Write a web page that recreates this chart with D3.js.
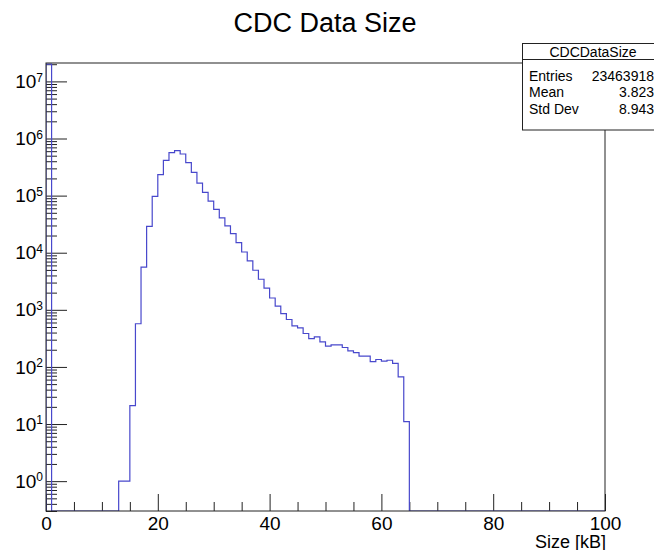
<!DOCTYPE html>
<html>
<head>
<meta charset="utf-8">
<script src="https://cdn.jsdelivr.net/npm/d3@7"></script>
<style>
  body { margin: 0; background: #fff; }
  svg { font-family: "Liberation Sans", Arial, sans-serif; }
</style>
</head>
<body>
<div id="chart"></div>
<script>
// histogram: 100 bins of 1 kB from 0 to 100, only non-empty bins listed
var binLow = [0, 13, 14, 15, 16, 17, 18, 19, 20, 21, 22, 23, 24, 25, 26, 27, 28, 29,
    30, 31, 32, 33, 34, 35, 36, 37, 38, 39, 40, 41, 42, 43, 44, 45, 46, 47, 48, 49,
    50, 51, 52, 53, 54, 55, 56, 57, 58, 59, 60, 61, 62, 63, 64];
var binCount = [2.0e7, 1, 1, 21, 570, 5600, 29000, 97000, 233000, 415000, 565000, 613000,
    535000, 378000, 256000, 166000, 114000, 80000,
    57500, 40600, 29400, 21600, 15000, 10300, 7170, 4930, 3430, 2390, 1610, 1160, 860, 677,
    522, 482, 385, 314, 335, 274, 231, 243, 243, 219, 191, 178, 154, 154, 124, 135, 126,
    131, 115, 67, 11];
var xMajorTicks = [0, 20, 40, 60, 80, 100];
var yMajorTicks = [1e0, 1e1, 1e2, 1e3, 1e4, 1e5, 1e6, 1e7];
var statsNames = ["Entries", "Mean", "Std Dev"];
var statsValues = ["23463918", "3.823", "8.943"];

var width = 654, height = 550;
var margin = { top: 63, right: 49, bottom: 39, left: 46 };
var w = width - margin.left - margin.right;
var h = height - margin.top - margin.bottom;

var svg = d3.select("#chart").append("svg")
    .attr("width", width)
    .attr("height", height);

var xScale = d3.scaleLinear().domain([0, 100]).range([0, w]);
var yScale = d3.scaleLog().domain([0.3, 2.1e7]).range([h, 0]);

var g = svg.append("g").attr("transform", "translate(" + margin.left + "," + margin.top + ")");

g.append("clipPath").attr("id", "clip")
    .append("rect").attr("width", w).attr("height", h);

// x axis, ticks point inward
var xMinor = d3.range(0, 101, 5).filter(function (v) { return v % 20 != 0; });
g.append("g")
    .attr("transform", "translate(0," + h + ")")
    .call(d3.axisBottom(xScale).tickValues(xMinor).tickSize(-9).tickFormat(""))
    .call(function (a) { a.select(".domain").remove(); });
var xAxis = g.append("g")
    .attr("transform", "translate(0," + h + ")")
    .call(d3.axisBottom(xScale).tickValues(xMajorTicks).tickSize(-17).tickPadding(6));
xAxis.select(".domain").remove();
xAxis.selectAll("text").attr("font-size", 19).attr("fill", "#000").attr("font-family", null);

// y axis
var yMinor = [];
d3.range(-1, 8).forEach(function (e) {
    for (var k = 2; k <= 9; k++) {
        var v = k * Math.pow(10, e);
        if (v >= 0.3 && v <= 2.1e7) yMinor.push(v);
    }
});
g.append("g")
    .call(d3.axisLeft(yScale).tickValues(yMinor).tickSize(-11).tickFormat(""))
    .call(function (a) { a.select(".domain").remove(); });
var yAxis = g.append("g")
    .call(d3.axisLeft(yScale).tickValues(yMajorTicks).tickSize(-21).tickPadding(3));
yAxis.select(".domain").remove();
yAxis.selectAll("text")
    .attr("font-size", 19).attr("fill", "#000").attr("font-family", null)
    .text(null)
    .each(function (d) {
        var t = d3.select(this);
        t.append("tspan").text("10");
        t.append("tspan").attr("font-size", 12).attr("dy", -6.4)
            .text(Math.round(Math.log10(d)));
    });

g.selectAll(".tick line").attr("stroke", "#222");

// fill every bin, empty ones sit on the bottom of the frame
var counts = d3.range(100).map(function () { return 0; });
binLow.forEach(function (b, i) { counts[b] = binCount[i]; });

var yOf = function (v) { return v > 0 ? yScale(v) : h; };
var pts = [[xScale(0), h]];
counts.forEach(function (c, i) {
    pts.push([xScale(i), yOf(c)]);
    pts.push([xScale(i + 1), yOf(c)]);
});
pts.push([xScale(100), h]);

g.append("path")
    .attr("clip-path", "url(#clip)")
    .attr("d", d3.line()(pts))
    .attr("fill", "none")
    .attr("stroke", "#4848cc")
    .attr("stroke-width", 1.2);

// frame drawn over the histogram edges
g.append("rect")
    .attr("width", w).attr("height", h)
    .attr("fill", "none")
    .attr("stroke", "#222")
    .attr("stroke-width", 1);

// title and axis label
svg.append("text")
    .attr("x", 325).attr("y", 32)
    .attr("text-anchor", "middle")
    .attr("font-size", 27)
    .text("CDC Data Size");

svg.append("text")
    .attr("x", margin.left + w + 1).attr("y", 547.5)
    .attr("text-anchor", "end")
    .attr("font-size", 18)
    .text("Size [kB]");

// stats box
var stats = svg.append("g").attr("font-size", 14);
stats.append("rect")
    .attr("x", 522.5).attr("y", 43.5)
    .attr("width", 141).attr("height", 86.5)
    .attr("fill", "#fff").attr("stroke", "#222");
stats.append("line")
    .attr("x1", 522.5).attr("x2", 663.5)
    .attr("y1", 59.5).attr("y2", 59.5)
    .attr("stroke", "#222");
stats.append("text")
    .attr("x", 593).attr("y", 56.5)
    .attr("text-anchor", "middle")
    .text("CDCDataSize");
var rowY = [80.5, 97, 114];
statsNames.forEach(function (n, i) {
    stats.append("text").attr("x", 529).attr("y", rowY[i]).text(n);
    stats.append("text").attr("x", 654).attr("y", rowY[i])
        .attr("text-anchor", "end").text(statsValues[i]);
});
</script>
</body>
</html>
